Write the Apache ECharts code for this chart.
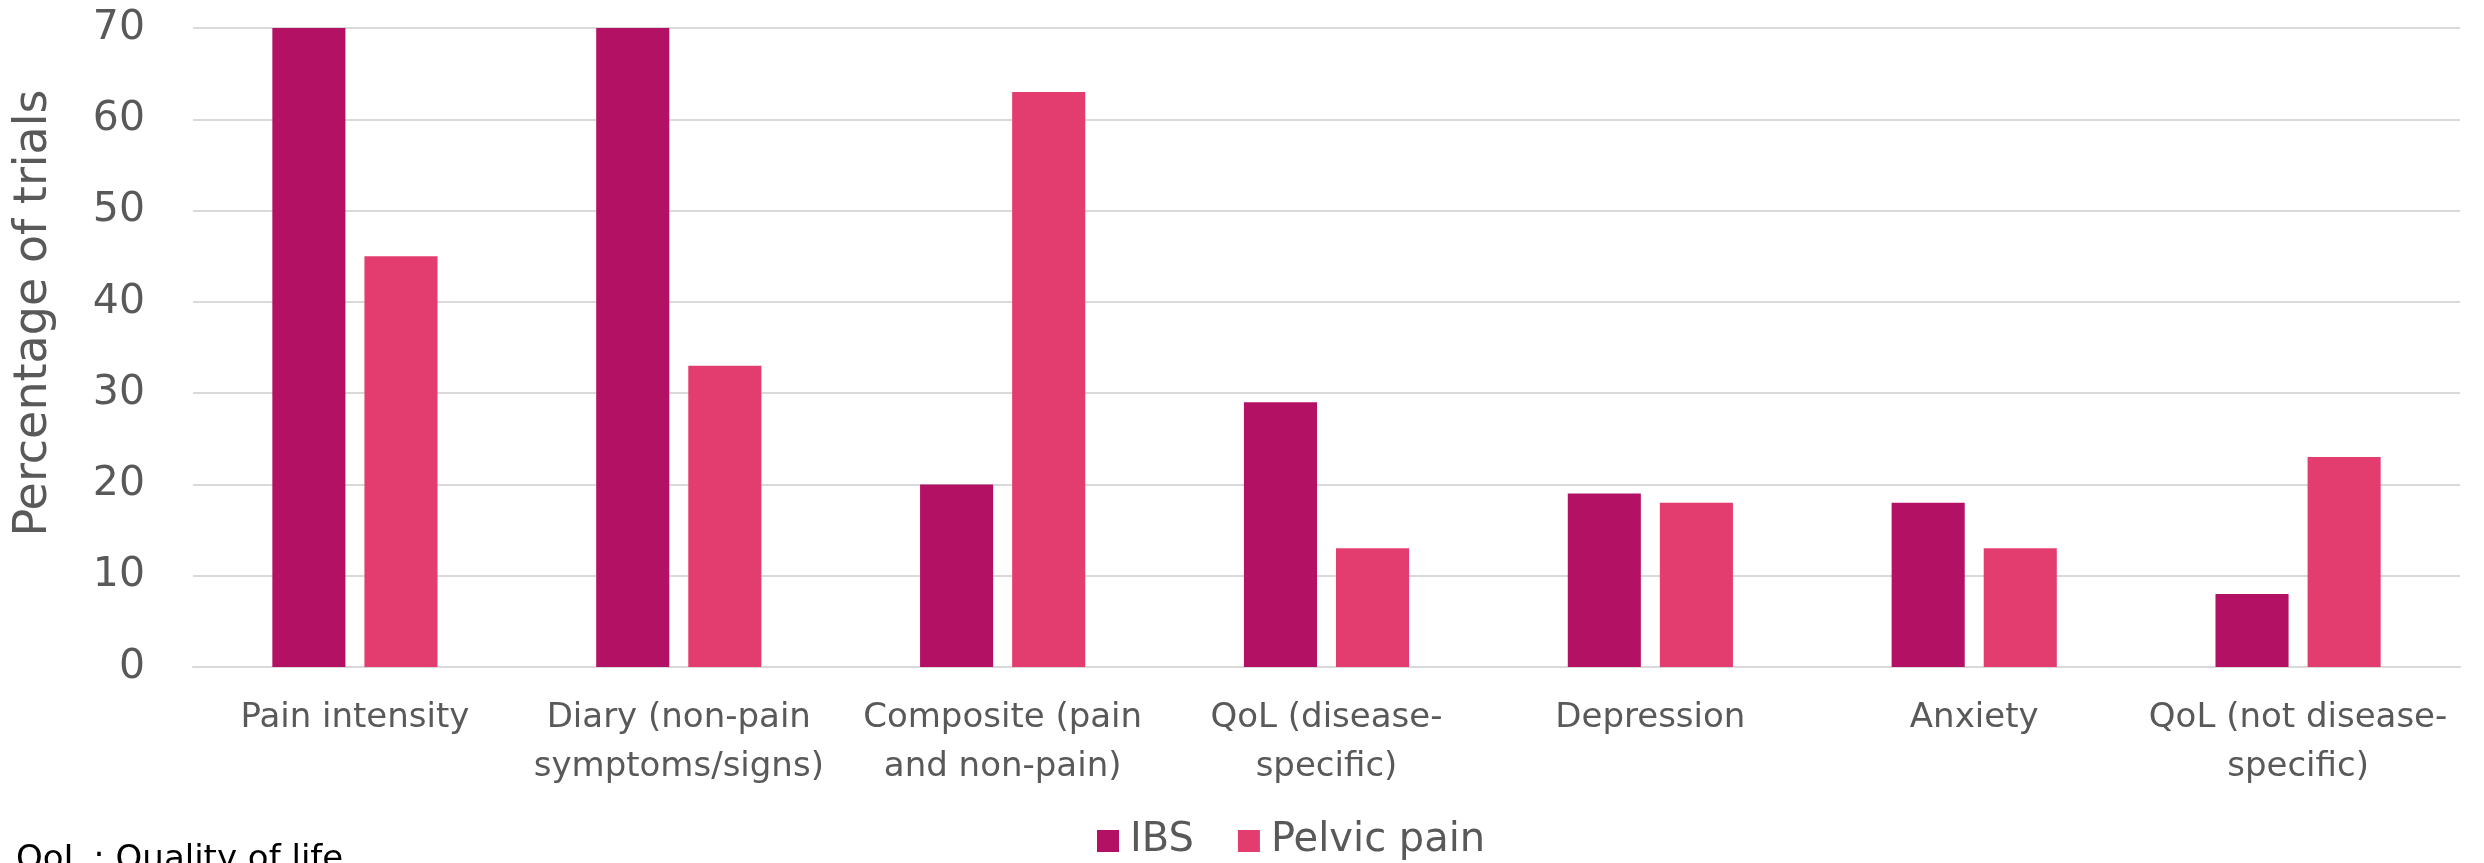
<!DOCTYPE html>
<html>
<head>
<meta charset="utf-8">
<script src="https://cdn.jsdelivr.net/npm/echarts@6/dist/echarts.min.js"></script>
<style>
html,body{margin:0;padding:0;background:#fff;}
#chart{width:2484px;height:863px;}
</style>
</head>
<body>
<div id="chart"></div>
<script>
const categories = [
  "Pain intensity",
  "Diary (non-pain\nsymptoms/signs)",
  "Composite (pain\nand non-pain)",
  "QoL (disease-\nspecific)",
  "Depression",
  "Anxiety",
  "QoL (not disease-\nspecific)"
];
const seriesNames = ["IBS", "Pelvic pain"];
const ibsValues = [70, 70, 20, 29, 19, 18, 8];
const pelvicValues = [45, 33, 63, 13, 18, 13, 23];
const yTicks = { min: 0, max: 70, interval: 10 };
const yTitle = "Percentage of trials";
const footnote = "QoL : Quality of life";

const FONT = "DejaVu Sans";
const TEXT = "#595959";
const chart = echarts.init(document.getElementById('chart'), null, { renderer: 'canvas' });
chart.setOption({
  animation: false,
  backgroundColor: '#ffffff',
  grid: { left: 193, right: 24, top: 28, bottom: 196, containLabel: false },
  legend: {
    data: seriesNames,
    left: 1092,
    top: 816,
    itemWidth: 22,
    itemHeight: 22,
    itemGap: 44,
    icon: 'rect',
    textStyle: { fontFamily: FONT, fontSize: 40, color: TEXT, padding: [0, 0, 0, 6] }
  },
  xAxis: {
    type: 'category',
    data: categories,
    axisTick: { show: false },
    axisLine: { lineStyle: { color: '#d9d9d9', width: 2 } },
    axisLabel: {
      interval: 0,
      margin: 27,
      lineHeight: 49,
      fontFamily: FONT,
      fontSize: 34,
      color: TEXT,
      align: 'center'
    }
  },
  yAxis: {
    type: 'value',
    min: yTicks.min,
    max: yTicks.max,
    interval: yTicks.interval,
    axisLine: { show: false },
    axisTick: { show: false },
    splitLine: { lineStyle: { color: '#d9d9d9', width: 2 } },
    axisLabel: { margin: 48, fontFamily: FONT, fontSize: 41, color: TEXT }
  },
  series: [
    {
      name: seriesNames[0],
      type: 'bar',
      data: ibsValues,
      itemStyle: { color: '#b31264' },
      barGap: '26%',
      barCategoryGap: '49%'
    },
    {
      name: seriesNames[1],
      type: 'bar',
      data: pelvicValues,
      itemStyle: { color: '#e33d6f' },
      barGap: '26%',
      barCategoryGap: '49%'
    }
  ],
  graphic: [
    {
      type: 'text',
      x: 34,
      y: 313,
      rotation: Math.PI / 2,
      style: {
        text: yTitle,
        fontFamily: FONT,
        fontSize: 46,
        fill: TEXT,
        textAlign: 'center',
        textVerticalAlign: 'middle'
      }
    },
    {
      type: 'text',
      left: 16,
      top: 843,
      style: {
        text: footnote,
        fontFamily: FONT,
        fontSize: 34,
        fill: '#000000'
      }
    }
  ]
});
</script>
</body>
</html>
